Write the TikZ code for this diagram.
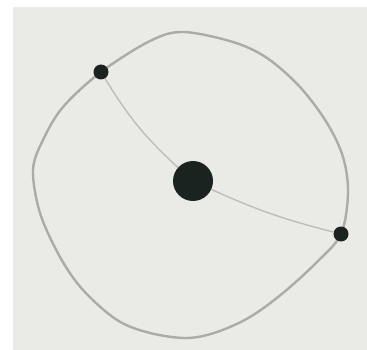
\documentclass[tikz,border=0pt]{standalone}
\usepackage{tikz}
\definecolor{ink}{HTML}{1B2320}
\definecolor{paper}{HTML}{EAEAE7}
\definecolor{rim}{HTML}{ABABA8}
\definecolor{spoke}{HTML}{BDBDBA}
\tikzset{
  bigdot/.style={circle, fill=ink, inner sep=0pt, minimum size=40pt},
  smalldot/.style={circle, fill=ink, inner sep=0pt, minimum size=15pt},
  spokeline/.style={draw=spoke, line width=1.4pt}
}

\begin{document}
\begin{tikzpicture}[x=1pt,y=-1pt]
\useasboundingbox (0,0) rectangle (367,350);
\fill[paper] (13,7) rectangle (367,350);
\draw[rim, line width=2.4pt] plot[smooth cycle, tension=0.55] coordinates {
  (183,32) (233,42) (267,58) (300,87) (327,123) (343,157) (348,193) (341,234)
  (317,262) (283,293) (250,317) (217,332) (187,338) (150,333) (117,320)
  (83,290) (60,257) (40,213) (33,170) (43,140) (63,107) (101,72) (150,41)};
\node[bigdot] (hub) at (193,181) {};
\node[smalldot] (top) at (101,72) {};
\node[smalldot] (side) at (341,234) {};
\draw[spokeline] (top) to[bend right=8] (hub);
\draw[spokeline] (hub) to[bend right=5] (side);
\end{tikzpicture}
\end{document}
